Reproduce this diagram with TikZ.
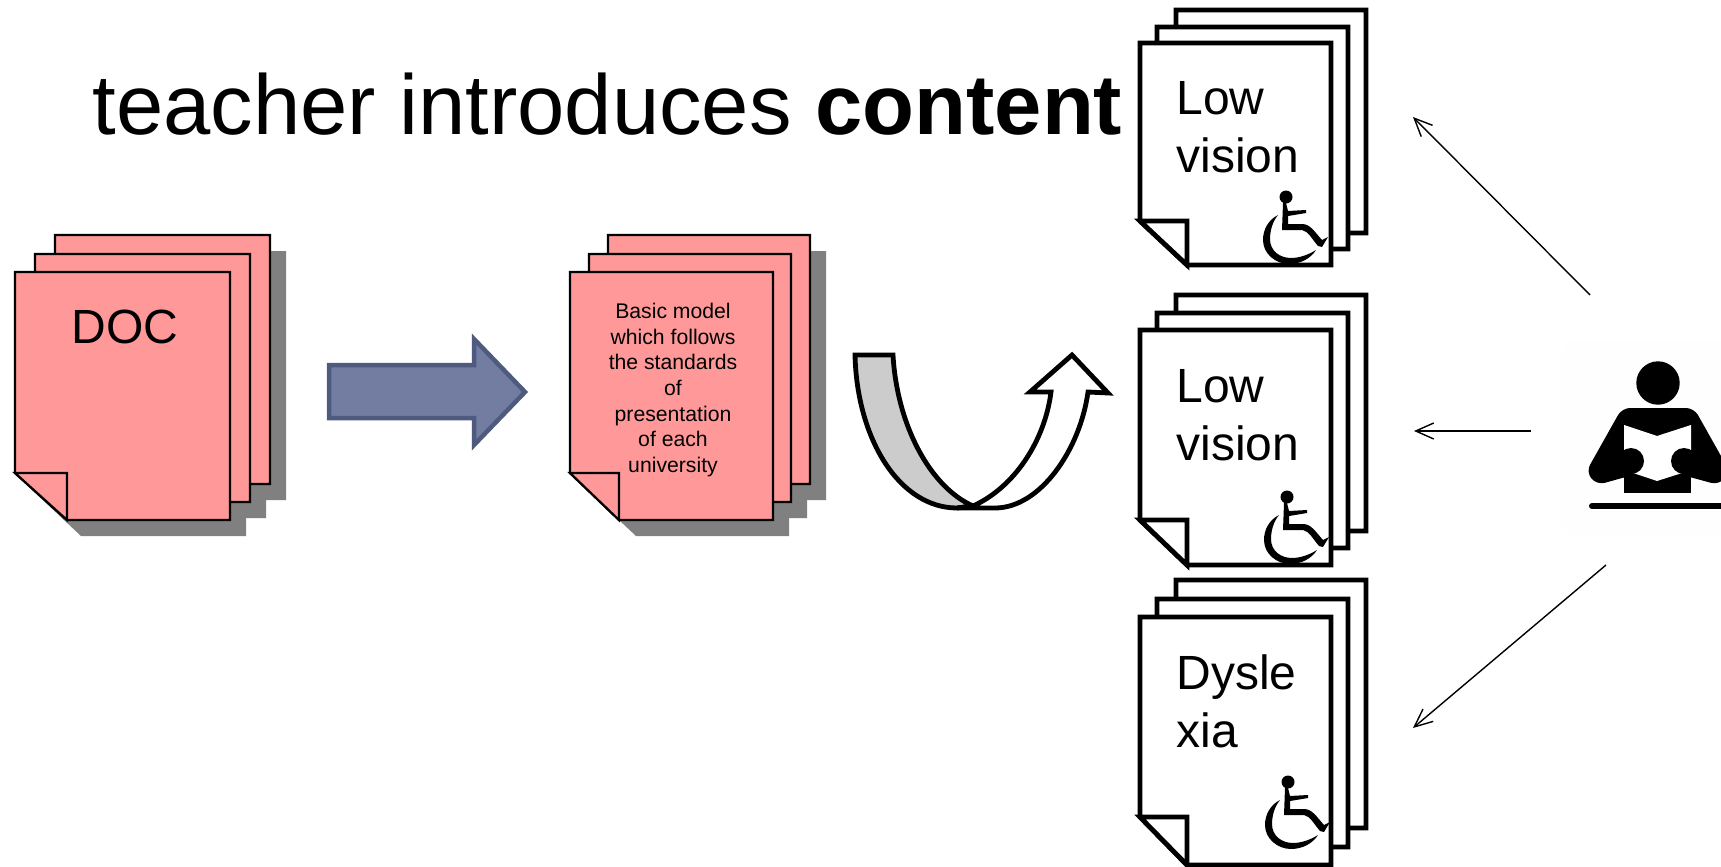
\documentclass[tikz,border=0pt]{standalone}
\usepackage{fontspec}
\setmainfont{Liberation Sans}
\usetikzlibrary{arrows.meta}

\tikzset{
  pinksheet/.style={draw=black, fill=sheetpink, line width=1.1pt},
  whitesheet/.style={draw=black, fill=white, line width=2.4pt},
  shadowsheet/.style={fill=shadowgray},
  pagetext/.style={inner sep=0pt, anchor=base west, align=left, font=\fontsize{24}{29}\selectfont},
  thinarrow/.style={line width=0.7pt, -{Straight Barb[length=9pt, width=8pt]}},
  bentarrow/.style={draw=black, line width=2.4pt},
}
\definecolor{sheetpink}{HTML}{FF9999}
\definecolor{shadowgray}{HTML}{808080}
\definecolor{arrowfill}{HTML}{737CA1}
\definecolor{arrowedge}{HTML}{4F5A7F}
\definecolor{bentgray}{HTML}{CCCCCC}
\definecolor{readerback}{HTML}{FEFEFE}

% head position of the wheelchair figure is the argument
\newcommand{\wheelchair}[2]{
  \begin{scope}[shift={(#1,#2)}]
    \fill (0,0) circle [radius=6.5];
    \fill (-3,6) -- (0,6) -- (2,14) -- (20,13) -- (20,16) -- (2,19) -- (2,27) -- (16,27) .. controls (24,27) and (28,34) .. (36,43) -- (42,40) -- (36,50) -- (32,49) .. controls (26,42) and (22,34) .. (16,33) -- (-4,33) -- cycle;
    \fill (-8,18) .. controls (-18,23) and (-23,33) .. (-23,43) .. controls (-23,57) and (-10,67) .. (3,67)
      .. controls (15,67) and (25,61) .. (30,53) .. controls (22,58) and (13,61) .. (5,61)
      .. controls (-6,61) and (-16,54) .. (-16,42) .. controls (-16,33) and (-13,24) .. (-8,18) -- cycle;
  \end{scope}
}

\begin{document}
\begin{tikzpicture}[x=0.5pt, y=-0.5pt]
  \useasboundingbox (0,0) rectangle (1721,867);

  % Pink stacks
  \foreach \lx/\ty/\rx/\by in {55/235/270/484, 35/254/250/502, 15/272/230/520, 608/235/810/484, 589/254/791/502, 570/272/773/520}
    \fill[shadowsheet] (\lx+16,\ty+16) -- (\rx+16,\ty+16) -- (\rx+16,\by+16) -- (\lx+66,\by+16) -- (\lx+16,\by-31) -- cycle;
  \foreach \lx/\ty/\rx/\by in {55/235/270/484, 35/254/250/502, 608/235/810/484, 589/254/791/502}
    \draw[pinksheet] (\lx,\ty) -- (\rx,\ty) -- (\rx,\by) -- (\lx+52,\by) -- (\lx,\by-47) -- cycle;
  \foreach \lx/\rx/\fx in {15/230/67, 570/773/619} {
    \draw[pinksheet] (\lx,272) -- (\rx,272) -- (\rx,520) -- (\fx,520) -- (\lx,473) -- cycle;
    \draw[pinksheet] (\lx,473) -- (\fx,473) -- (\fx,520) -- cycle;
  }

  % White stacks
  \foreach \lx/\ty/\rx/\by in {1176/10/1366/233, 1157/27/1348/249, 1176/295/1366/531, 1157/313/1348/548, 1176/580/1366/828, 1157/599/1348/847}
    \draw[whitesheet] (\lx,\ty) -- (\rx,\ty) -- (\rx,\by) -- (\lx+47,\by) -- (\lx,\by-44) -- cycle;
  \foreach \ty/\by/\fy in {43/265/221, 330/565/520, 617/865/817} {
    \draw[whitesheet] (1140,\ty) -- (1331,\ty) -- (1331,\by) -- (1187,\by) -- (1140,\fy) -- cycle;
    \draw[whitesheet] (1140,\fy) -- (1187,\fy) -- (1187,\by) -- cycle;
  }
  \wheelchair{1286}{197}
  \wheelchair{1287}{497}
  \wheelchair{1288}{782}

  % Nodes
  \node (title) [inner sep=0pt, anchor=base west, font=\fontsize{42.5}{50}\selectfont] at (92,134) {teacher introduces \textbf{content}};
  \node (doc) [inner sep=0pt, anchor=base, font=\fontsize{24}{28}\selectfont] at (125,343) {DOC};
  \node (model) [inner sep=0pt, anchor=north, align=center, font=\fontsize{10.6}{12.8}\selectfont] at (673,303) {Basic model\\which follows\\the standards\\of\\presentation\\of each\\university};
  \node (lowone) [pagetext] at (1176,172) {Low\\vision};
  \node (lowtwo) [pagetext] at (1176,460) {Low\\vision};
  \node (dyslexia) [pagetext] at (1176,747) {Dysle\\xia};

  % Block arrow and bent arrow
  \draw[fill=arrowfill, draw=arrowedge, line width=2.25pt] (329,365) -- (474,365) -- (474,339) -- (525,392) -- (474,445) -- (474,418) -- (329,418) -- cycle;
  \draw[bentarrow, fill=bentgray] (855,355) -- (893,355) .. controls (897,425) and (930,487) .. (973,506) -- (957,508) .. controls (900,508) and (857,440) .. (855,355) -- cycle;
  \draw[bentarrow, fill=white] (973,506) .. controls (1015,487) and (1045,440) .. (1051,392) -- (1030,392) -- (1072,355) -- (1108,393) -- (1088,392) .. controls (1080,450) and (1040,508) .. (995,508) -- (957,508) -- cycle;

  % Reader
  \fill[readerback, rounded corners=10pt] (1560,340) rectangle (1740,537);
  \fill (1658,383) circle [radius=21.7];
  \fill[rounded corners=4pt] (1622,408) -- (1586,472) -- (1597,485) -- (1640,473) -- (1675,473) -- (1719,485) -- (1730,472) -- (1694,408) -- cycle;
  \fill (1624,470) rectangle (1691,493);
  \fill[white] (1624,425) -- (1657,436) -- (1691,425) -- (1691,450) -- (1682,473) -- (1657,481) -- (1633,473) -- (1624,450) -- cycle;
  \fill (1631,461) circle [radius=13];
  \fill (1684,461) circle [radius=13];
  \draw[line width=3pt, line cap=round] (1592,506) -- (1730,506);

  % Arrows
  \coordinate (readertop) at (1590,295);
  \coordinate (readermid) at (1531,431);
  \coordinate (readerlow) at (1606,565);
  \coordinate (sheettop) at (1413,117);
  \coordinate (sheetmid) at (1414,431);
  \coordinate (sheetlow) at (1413,728);
  \draw[thinarrow] (readertop) -- (sheettop);
  \draw[thinarrow] (readermid) -- (sheetmid);
  \draw[thinarrow] (readerlow) -- (sheetlow);
\end{tikzpicture}
\end{document}
